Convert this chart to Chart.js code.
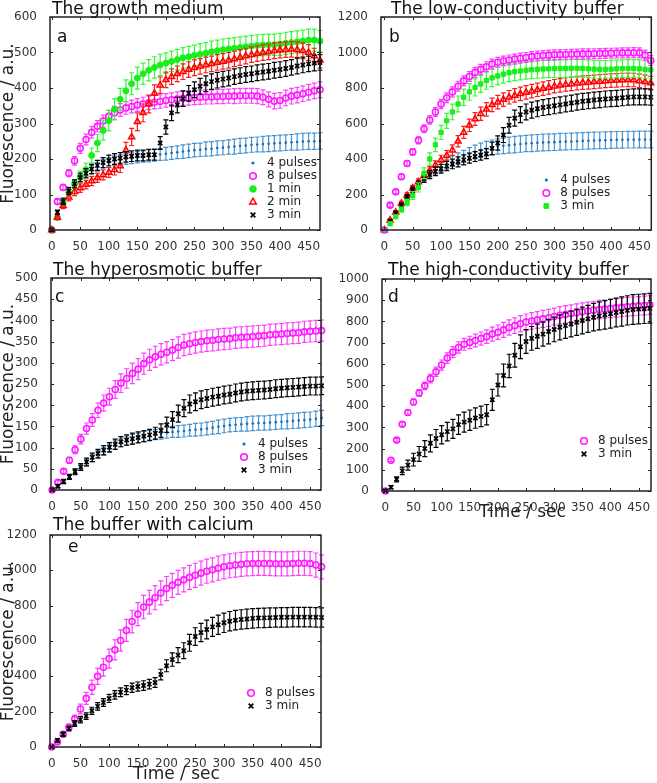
<!DOCTYPE html>
<html>
<head>
<meta charset="utf-8">
<script src="https://cdn.jsdelivr.net/npm/chart.js@4.4.1/dist/chart.umd.min.js"></script>
<style>
html, body { margin: 0; padding: 0; background: #fff; }
#wrap { position: relative; width: 657px; height: 783px; overflow: hidden; }
#wrap canvas { position: absolute; }
</style>
</head>
<body>
<div id="wrap">
  <canvas id="pa" width="328" height="255" style="left:0;top:0"></canvas>
  <canvas id="pb" width="329" height="255" style="left:328px;top:0"></canvas>
  <canvas id="pc" width="328" height="265" style="left:0;top:255px"></canvas>
  <canvas id="pd" width="329" height="275" style="left:328px;top:255px"></canvas>
  <canvas id="pe" width="328" height="278" style="left:0;top:505px"></canvas>
</div>
<script>
// sample times (s)
var timeSec = [0,10,20,30,40,50,60,70,80,90,100,110,120,130,140,150,160,170,180,190,200,210,220,230,
  240,250,260,270,280,290,300,310,320,330,340,350,360,370,380,390,400,410,420,430,440,450,460,470];

var xTicks = [0,50,100,150,200,250,300,350,400,450];
var yTicksA = [0,100,200,300,400,500,600];
var yTicksB = [0,200,400,600,800,1000,1200];
var yTicksC = [0,50,100,150,200,250,300,350,400,450,500];
var yTicksD = [0,100,200,300,400,500,600,700,800,900,1000];
var yTicksE = [0,200,400,600,800,1000,1200];

// a: growth medium
var a4p = [0,50,85,110,130,145,160,170,178,185, 190,195,198,200,202,205,207,209,211,213,
  215,217,219,221,223,225,226,228,229,231, 232,234,235,237,238,240,241,242,243,244, 245,246,247,248,249,250,250,251];
var a4pErr = [0,5,6,8,9,10,11,12,12,13, 13,14,14,15,15,16,16,17,17,17, 18,18,18,19,19,19,19,20,20,20,
  20,20,21,21,21,21,21,22,22,22, 22,22,22,23,23,23,23,23];
var a8p = [0,80,120,160,195,230,255,275,292,307, 320,330,338,344,348,352,355,358,360,362,
  365,367,369,371,372,373,374,375,375,376, 376,377,377,378,378,378,377,374,368,363, 365,372,377,380,384,388,392,395];
var a8pErr = [0,6,8,10,12,14,15,16,16,17, 17,18,18,18,18,18,19,19,19,19, 19,19,20,20,20,20,20,20,20,20,
  20,20,21,21,21,21,21,21,21,22, 22,22,22,22,22,22,22,22];
var a1m = [0,35,75,105,130,150,170,210,245,280, 308,340,368,392,412,428,440,450,458,465,
  470,475,480,485,488,492,495,498,502,505, 508,510,512,514,516,518,520,521,522,522, 523,526,528,530,532,535,535,532];
var a1mErr = [0,5,8,10,12,15,18,21,24,27, 29,30,31,31,31,31,30,30,30,30, 29,29,29,29,29,29,30,30,30,30,
  30,30,30,30,30,30,30,30,30,30, 31,31,31,31,31,31,31,30];
var a2m = [0,35,68,92,108,118,128,138,147,155, 162,170,180,225,262,305,330,355,385,408,
  423,432,440,446,452,457,461,465,468,472, 475,478,482,486,490,494,497,500,502,505, 507,508,509,508,505,500,490,478];
var a2mErr = [0,6,8,10,11,12,12,13,13,14, 14,15,18,22,24,25,25,25,24,23, 22,22,22,22,22,22,22,22,22,22,
  22,22,22,22,22,22,22,22,22,22, 22,22,22,22,22,22,22,22];
var a3m = [0,50,80,110,130,148,160,172,182,190, 196,200,203,206,208,210,210,212,212,245,
  290,330,352,370,385,395,405,412,418,422, 425,428,432,435,438,440,443,445,447,450, 452,455,458,462,465,468,470,472];
var a3mErr = [0,6,8,10,11,12,13,13,14,14, 15,15,15,15,15,15,15,15,15,18, 20,22,22,22,22,22,22,22,22,22,
  22,22,22,22,22,22,22,22,22,22, 22,22,22,22,22,22,22,22];

// b: low-conductivity buffer
var b4p = [0,50,95,140,185,225,260,290,315,335, 355,372,388,402,415,428,440,450,458,465,
  470,474,478,481,484,487,489,491,493,494, 495,497,498,499,500,502,503,504,505,506, 507,508,508,509,509,510,510,510];
var b4pErr = [0,8,10,12,14,16,18,20,22,24, 26,28,30,32,34,36,38,40,41,42, 43,44,45,46,46,46,47,47,47,47,
  47,47,47,47,47,47,47,47,47,47, 47,47,47,47,47,47,47,47];
var b8p = [0,140,215,300,375,440,505,570,620,665, 710,745,778,810,840,865,888,905,920,935,
  945,952,958,963,968,972,977,980,983,985, 987,988,989,990,991,992,992,993,994,995, 996,997,998,998,999,998,985,955];
var b8pErr = [0,10,12,14,16,18,20,22,24,25, 26,27,28,28,28,28,28,28,28,28, 28,28,28,28,28,28,28,28,28,28,
  28,28,28,28,28,28,28,28,28,28, 28,28,28,28,28,28,28,28];
var b3mGreen = [0,35,75,115,155,195,240,320,400,480, 550,615,665,710,748,778,803,823,842,857,
  868,878,886,892,896,900,903,905,907,908, 909,910,910,911,911,910,908,906,905,905, 906,908,909,910,910,908,905,902];
var b3mGreenErr = [0,8,10,14,18,22,26,30,34,38, 40,42,44,45,46,47,48,48,49,49, 50,50,50,50,50,50,50,50,50,50,
  50,50,50,50,50,50,50,50,50,50, 50,50,50,50,50,50,50,50];
var bRed = [0,55,100,150,195,235,270,305,335,365, 395,420,450,500,550,590,625,655,680,705,
  720,735,748,758,767,775,782,790,797,803, 810,815,820,823,827,830,832,835,837,840, 842,843,845,846,845,840,835,828];
var bRedErr = [0,8,10,12,14,16,18,20,22,24, 26,28,30,32,34,35,36,37,38,38, 38,38,38,38,38,38,38,38,38,38,
  38,38,38,38,38,38,38,38,38,38, 38,38,38,38,38,38,38,38];
var bBlack = [0,50,95,140,185,225,258,288,312,330, 345,360,372,384,395,405,414,422,430,460,
  490,535,590,630,650,665,675,683,690,695, 700,705,710,715,720,725,728,732,735,738, 740,742,745,748,750,750,750,748];
var bBlackErr = [0,8,10,12,14,16,18,20,22,24, 25,26,27,28,28,28,28,28,28,35, 40,42,44,45,45,45,45,45,45,45,
  45,45,45,45,45,45,45,45,45,45, 45,45,45,45,45,45,45,45];

// c: hyperosmotic buffer
var c4p = [0,9,20,31,43,54,65,75,84,92, 99,106,112,116,120,123,126,128,131,133,
  135,137,138,139,141,142,143,145,147,149, 151,153,154,155,156,157,158,158,159,160, 161,162,163,164,165,166,168,170];
var c4pErr = [0,3,4,5,6,7,8,8,9,9, 10,10,10,11,11,11,12,12,12,13, 13,13,14,14,14,15,15,15,15,16,
  16,16,16,16,17,17,17,17,17,17, 17,18,18,18,18,18,18,18];
var c8p = [0,18,44,70,95,120,145,165,188,205, 220,237,252,263,275,285,298,307,314,320,
  325,330,336,342,345,348,350,352,353,355, 356,357,359,360,361,362,363,364,366,367, 368,369,370,371,373,374,375,376];
var c8pErr = [0,4,5,7,9,11,13,15,17,19, 20,21,22,23,24,25,25,25,25,25, 25,25,25,25,25,25,25,25,25,25,
  25,25,25,25,25,25,25,25,25,25, 25,25,25,25,25,25,25,25];
var c3m = [0,9,20,31,43,54,66,77,86,94, 101,108,114,118,121,124,127,130,134,140,
  154,166,180,193,203,208,213,216,219,221, 224,226,229,231,233,234,235,236,237,239, 240,241,242,243,244,245,245,246];
var c3mErr = [0,4,5,6,7,8,9,10,10,11, 11,12,12,12,13,13,13,13,14,16, 18,19,20,20,21,21,21,21,21,21,
  21,21,21,21,21,21,21,21,21,21, 21,21,21,21,21,21,21,21];

// d: high-conductivity buffer
var d8p = [0,145,240,315,370,420,462,496,530,562, 594,627,655,677,692,701,710,719,728,740,
  749,760,771,780,789,797,802,807,812,817, 823,829,833,837,841,845,849,853,856,858, 861,864,866,869,871,873,875,877];
var d8pErr = [0,6,8,10,12,14,16,18,20,22, 24,25,26,27,28,29,30,31,32,33, 34,35,36,37,38,38,39,39,40,40,
  40,41,41,41,42,42,42,42,43,43, 43,43,44,44,44,44,44,44];
var d3m = [0,18,55,95,122,148,175,200,225,248, 265,280,293,313,325,334,344,352,360,430,
  500,545,590,640,680,705,720,730,740,752, 762,772,780,788,796,804,812,820,826,831, 836,842,847,852,856,858,860,862];
var d3mErr = [0,8,12,18,24,30,35,38,40,42, 43,44,45,46,47,48,48,48,48,50, 52,54,55,56,56,56,56,57,57,58,
  58,59,60,61,62,63,64,65,66,67, 68,68,69,69,70,70,70,70];

// e: buffer with calcium
var e8p = [0,28,72,112,158,215,275,338,400,451, 500,550,603,660,710,752,792,820,845,872,
  897,915,932,946,960,972,984,995,1003,1012, 1020,1026,1030,1034,1037,1038,1039,1039,1038,1037, 1037,1037,1038,1040,1040,1038,1030,1020];
var e8pErr = [0,10,14,18,22,28,34,40,45,50, 54,57,60,62,64,65,66,67,68,68, 68,68,68,68,68,68,68,68,68,68,
  68,68,68,68,68,68,68,68,68,68, 68,68,68,68,68,68,68,68];
var e3m = [0,38,72,105,133,155,175,205,230,252, 275,295,310,322,335,342,348,356,365,410,
  460,495,520,545,590,625,648,665,680,692, 703,712,718,722,725,728,730,731,732,733, 734,734,735,735,735,735,734,733];
var e3mErr = [0,10,12,14,16,18,19,20,21,22, 23,24,25,25,26,26,27,27,28,30, 34,38,42,45,48,50,52,53,54,55,
  55,55,55,55,55,55,55,55,55,55, 55,55,55,55,55,55,55,55];

var STYLES = {
  p4:  { label: "4 pulses", color: "#1a6fb5", bar: "#4493d4", style: "circle",   r: 1.3, hollow: false, bw: 0 },
  p8:  { label: "8 pulses", color: "#ff1aff", bar: "#ff40ff", style: "circle",   r: 3,   hollow: true,  bw: 1.6 },
  m1:  { label: "1 min",    color: "#1aee1a", bar: "#33fb33", style: "circle",   r: 3,   hollow: false, bw: 1 },
  m2:  { label: "2 min",    color: "#ff0000", bar: "#ff1a1a", style: "triangle", r: 3.5, hollow: true,  bw: 1.5 },
  m3:  { label: "3 min",    color: "#000000", bar: "#000000", style: "crossRot", r: 3,   hollow: false, bw: 1.7 },
  g3:  { label: "3 min",    color: "#1aee1a", bar: "#33fb33", style: "rect",     r: 3,   hollow: false, bw: 1 }
};

function makeSet(key, vals, errs) {
  var s = STYLES[key];
  var fill = s.hollow ? "rgba(0,0,0,0)" : s.color;
  return {
    label: s.label,
    data: timeSec.map(function(t, i) { return { x: t, y: vals[i] }; }),
    errors: errs,
    barColor: s.bar,
    showLine: false,
    pointStyle: s.style,
    pointRadius: s.r,
    pointBorderWidth: s.bw,
    borderColor: s.color,
    backgroundColor: fill,
    pointBackgroundColor: fill,
    pointBorderColor: s.color,
    clip: false
  };
}

var PANELS = {
  pa: { title: "The growth medium", letter: "a", titleDx: 2, titleDy: 3.5, letterDx: 7, letterDy: 25,
        legend: [0, 1, 2, 3, 4], legendDx: 53, legendDy: 67,
        padR: 8, padT: 17, yW: 50, xH: 25, xMin: -3, xMax: 470, yMax: 600, yTicks: yTicksA, yTitle: true,
        sets: [makeSet("p4", a4p, a4pErr), makeSet("p8", a8p, a8pErr), makeSet("m1", a1m, a1mErr),
               makeSet("m2", a2m, a2mErr), makeSet("m3", a3m, a3mErr)] },
  pb: { title: "The low-conductivity buffer", letter: "b", titleDx: 10, titleDy: 3, letterDx: 8, letterDy: 25,
        legend: [0, 4, 3], legendDx: 91, legendDy: 50,
        padR: 5, padT: 17, yW: 53, xH: 25, xMin: -6, xMax: 471, yMax: 1200, yTicks: yTicksB, yTitle: false,
        sets: [makeSet("p4", b4p, b4pErr), makeSet("m2", bRed, bRedErr), makeSet("m3", bBlack, bBlackErr),
               makeSet("g3", b3mGreen, b3mGreenErr), makeSet("p8", b8p, b8pErr)] },
  pc: { title: "The hyperosmotic buffer", letter: "c", titleDx: 2, titleDy: 3.5, letterDx: 4, letterDy: 24,
        legend: [0, 1, 2], legendDx: 63, legendDy: 46,
        padR: 7, padT: 23, yW: 51, xH: 30, xMin: -2, xMax: 469, yMax: 500, yTicks: yTicksC, yTitle: true,
        sets: [makeSet("p4", c4p, c4pErr), makeSet("p8", c8p, c8pErr), makeSet("m3", c3m, c3mErr)] },
  pd: { title: "The high-conductivity buffer", letter: "d", titleDx: 6, titleDy: 4, letterDx: 6, letterDy: 23,
        legend: [0, 1], legendDx: 53, legendDy: 50,
        padR: 6, padT: 24, yW: 54, xH: 39, xMin: -6, xMax: 472, yMax: 1000, yTicks: yTicksD, yTitle: false,
        xTitle: "Time / sec", xTitleDx: 6, xTitleDy: 22,
        sets: [makeSet("p8", d8p, d8pErr), makeSet("m3", d3m, d3mErr)] },
  pe: { title: "The buffer with calcium", letter: "e", titleDx: 3, titleDy: 5, letterDx: 18, letterDy: 17,
        legend: [0, 1], legendDx: 56, legendDy: 54,
        padR: 7, padT: 30, yW: 50, xH: 36, xMin: -3, xMax: 469, yMax: 1200, yTicks: yTicksE, yTitle: true,
        xTitle: "Time / sec", xTitleDx: -9, xTitleDy: 28,
        sets: [makeSet("p8", e8p, e8pErr), makeSet("m3", e3m, e3mErr)] }
};

Chart.defaults.font.family = '"DejaVu Sans", Verdana, sans-serif';
Chart.defaults.font.size = 12;
Chart.defaults.color = "#333";

// vertical error bars with caps, drawn under each dataset's markers
var errorBars = {
  id: "errorBars",
  beforeDatasetDraw: function(chart, args) {
    var ds = chart.data.datasets[args.index];
    if (!ds.errors) return;
    var ys = chart.scales.y, ctx = chart.ctx;
    ctx.save();
    ctx.strokeStyle = ds.barColor;
    ctx.lineWidth = 1.2;
    ctx.beginPath();
    args.meta.data.forEach(function(pt, i) {
      var e = ds.errors[i];
      if (!e) return;
      var v = ds.data[i].y;
      var y1 = ys.getPixelForValue(v + e), y2 = ys.getPixelForValue(v - e);
      ctx.moveTo(pt.x, y1); ctx.lineTo(pt.x, y2);
      ctx.moveTo(pt.x - 2.5, y1); ctx.lineTo(pt.x + 2.5, y1);
      ctx.moveTo(pt.x - 2.5, y2); ctx.lineTo(pt.x + 2.5, y2);
    });
    ctx.stroke();
    ctx.restore();
  }
};

// box, inward ticks, panel title, letter, x title and in-plot legend
var frame = {
  id: "frame",
  afterDraw: function(chart) {
    var p = PANELS[chart.canvas.id];
    var ctx = chart.ctx, a = chart.chartArea, xs = chart.scales.x, ys = chart.scales.y;
    ctx.save();
    ctx.strokeStyle = "#222";
    ctx.lineWidth = 1.5;
    ctx.strokeRect(a.left, a.top, a.right - a.left, a.bottom - a.top);
    ctx.lineWidth = 1;
    ctx.beginPath();
    xs.ticks.forEach(function(t) {
      var x = Math.round(xs.getPixelForValue(t.value)) + 0.5;
      ctx.moveTo(x, a.bottom); ctx.lineTo(x, a.bottom - 3);
      ctx.moveTo(x, a.top); ctx.lineTo(x, a.top + 3);
    });
    ys.ticks.forEach(function(t) {
      var y = Math.round(ys.getPixelForValue(t.value)) + 0.5;
      ctx.moveTo(a.left, y); ctx.lineTo(a.left + 3, y);
      ctx.moveTo(a.right, y); ctx.lineTo(a.right - 3, y);
    });
    ctx.stroke();

    ctx.fillStyle = "#111";
    ctx.font = '17px "DejaVu Sans"';
    ctx.textAlign = "left";
    ctx.textBaseline = "alphabetic";
    ctx.fillText(p.title, a.left + p.titleDx, a.top - p.titleDy);
    ctx.fillText(p.letter, a.left + p.letterDx, a.top + p.letterDy);

    if (p.xTitle) {
      ctx.textAlign = "center";
      ctx.textBaseline = "middle";
      ctx.fillStyle = "#222";
      ctx.fillText(p.xTitle, (a.left + a.right) / 2 + p.xTitleDx, a.bottom + p.xTitleDy);
    }

    ctx.font = '12px "DejaVu Sans"';
    ctx.textAlign = "left";
    ctx.textBaseline = "middle";
    p.legend.forEach(function(idx, k) {
      var ds = chart.data.datasets[idx];
      var y = a.bottom - p.legendDy + k * 13;
      var tx = a.right - p.legendDx;
      ctx.strokeStyle = ds.borderColor;
      ctx.fillStyle = ds.backgroundColor;
      ctx.lineWidth = ds.pointBorderWidth;
      Chart.helpers.drawPoint(ctx, { pointStyle: ds.pointStyle, radius: ds.pointRadius + 0.3, rotation: 0,
        borderWidth: ds.pointBorderWidth }, tx - 14, y);
      ctx.fillStyle = "#222";
      ctx.fillText(ds.label, tx, y);
    });
    ctx.restore();
  }
};

function build(id) {
  var p = PANELS[id];
  var n = p.sets.length;
  p.sets.forEach(function(s, i) { s.order = n - i; });
  new Chart(document.getElementById(id), {
    type: "line",
    data: { datasets: p.sets },
    plugins: [errorBars, frame],
    options: {
      responsive: false,
      animation: false,
      devicePixelRatio: 1,
      layout: { padding: { left: 0, right: p.padR, top: p.padT, bottom: 0 } },
      plugins: { legend: { display: false }, tooltip: { enabled: false } },
      scales: {
        x: {
          type: "linear", min: p.xMin, max: p.xMax,
          grid: { display: false }, border: { display: false },
          afterBuildTicks: function(s) { s.ticks = xTicks.map(function(v) { return { value: v }; }); },
          afterFit: function(s) { s.height = p.xH; },
          ticks: { padding: 2, color: "#333", maxRotation: 0, autoSkip: false,
                   callback: function(v) { return String(v); } }
        },
        y: {
          type: "linear", min: 0, max: p.yMax,
          grid: { display: false }, border: { display: false },
          afterBuildTicks: function(s) { s.ticks = p.yTicks.map(function(v) { return { value: v }; }); },
          afterFit: function(s) { s.width = p.yW; },
          ticks: { padding: 5, color: "#333", autoSkip: false,
                   callback: function(v) { return String(v); } },
          title: { display: p.yTitle, text: "Fluorescence / a.u.", color: "#222",
                   font: { size: 17, lineHeight: 1 }, padding: 0 }
        }
      }
    }
  });
}

["pa", "pb", "pc", "pd", "pe"].forEach(build);
</script>
</body>
</html>
